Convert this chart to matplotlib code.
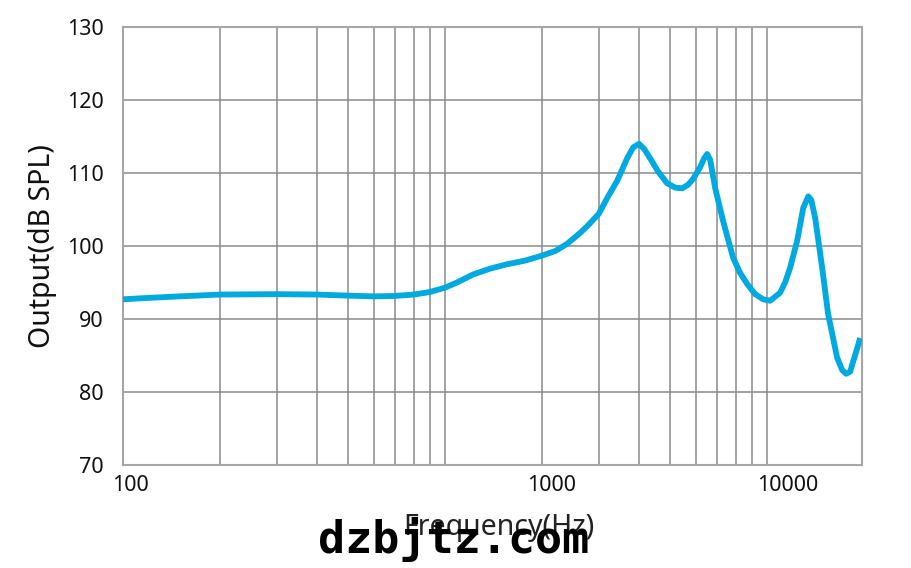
import matplotlib
matplotlib.use("Agg")
import matplotlib.pyplot as plt
from matplotlib.ticker import FixedLocator, NullFormatter

# Frequency response data
freq_hz = [100, 121, 150, 200, 300, 400, 500, 600, 690, 800, 898, 1000,
           1089, 1222, 1380, 1558, 1772, 1972, 2196, 2393, 2627, 2761, 3000,
           3208, 3421, 3674, 3837, 4000, 4150, 4334, 4585, 4890, 5180, 5447,
           5685, 5891, 6194, 6372, 6512, 6655, 6898, 7300, 7838, 8245, 8670,
           9180, 9720, 10220, 10970, 11370, 11780, 12390, 12940, 13420, 13710,
           14100, 14820, 15460, 16490, 17100, 17590, 18110, 18500, 19040, 19440]
output_db = [92.7, 92.9, 93.1, 93.35, 93.4, 93.35, 93.2, 93.1, 93.15, 93.35, 93.7, 94.3,
             95.0, 96.1, 96.9, 97.5, 98.0, 98.6, 99.3, 100.3, 101.8, 102.7, 104.4,
             106.8, 108.9, 112.0, 113.5, 114.0, 113.3, 112.0, 110.2, 108.6, 108.0, 107.9,
             108.4, 109.2, 110.8, 112.0, 112.6, 111.8, 107.9, 103.4, 98.4, 96.3, 94.8,
             93.4, 92.7, 92.5, 93.6, 95.0, 97.0, 100.7, 105.2, 106.8, 106.3,
             103.8, 97.0, 90.7, 84.7, 83.0, 82.5, 82.8, 84.2, 86.0, 87.4]

y_ticks = [70, 80, 90, 100, 110, 120, 130]
x_tick_labels = ["100", "1000", "10000"]
x_label_pos = [105.5, 2142, 11580]
grid_freqs = [200, 300, 400, 500, 600, 700, 800, 900, 1000,
              2000, 3000, 4000, 5000, 6000, 7000, 8000, 9000, 10000]

plt.rcParams['font.family'] = ['Noto Sans', 'DejaVu Sans']

fig = plt.figure(figsize=(9.11, 5.68), dpi=100)
ax = fig.add_axes([123/911, 103/568, 739/911, 438/568])

ax.plot(freq_hz, output_db, color='#00a9e0', lw=4.2, solid_joinstyle='round',
        solid_capstyle='butt', zorder=3)

ax.set_xscale('log')
ax.set_xlim(100, 19700)
ax.set_ylim(70, 130)

ax.xaxis.set_major_locator(FixedLocator(x_label_pos))
ax.set_xticklabels(x_tick_labels)
ax.xaxis.set_minor_locator(FixedLocator(grid_freqs))
ax.xaxis.set_minor_formatter(NullFormatter())
ax.set_yticks(y_ticks)

ax.grid(False)
for f in grid_freqs:
    ax.axvline(f, color='#8a8a8a', lw=1.1, zorder=1)
for y in y_ticks[1:-1]:
    ax.axhline(y, color='#8a8a8a', lw=1.1, zorder=1)

ax.tick_params(axis='both', which='both', length=0, labelsize=15.5, colors='#111111')
ax.tick_params(axis='y', pad=14)
ax.tick_params(axis='x', pad=7)

for s in ax.spines.values():
    s.set_color('#a6a6a6')
    s.set_linewidth(1.5)

ax.set_ylabel('Output(dB SPL)', fontsize=20.5, color='#111111', labelpad=7)
fig.text(499/911, 1 - 527/568, 'Frequency(Hz)', fontsize=20.5, color='#222222',
         ha='center', va='center')

fig.text(454/911, 1 - 540/568, 'dzbjtz.com', fontsize=32.5, fontweight='bold',
         family='DejaVu Sans Mono', color='black', ha='center', va='center')

fig.savefig('out.png', dpi=100)
